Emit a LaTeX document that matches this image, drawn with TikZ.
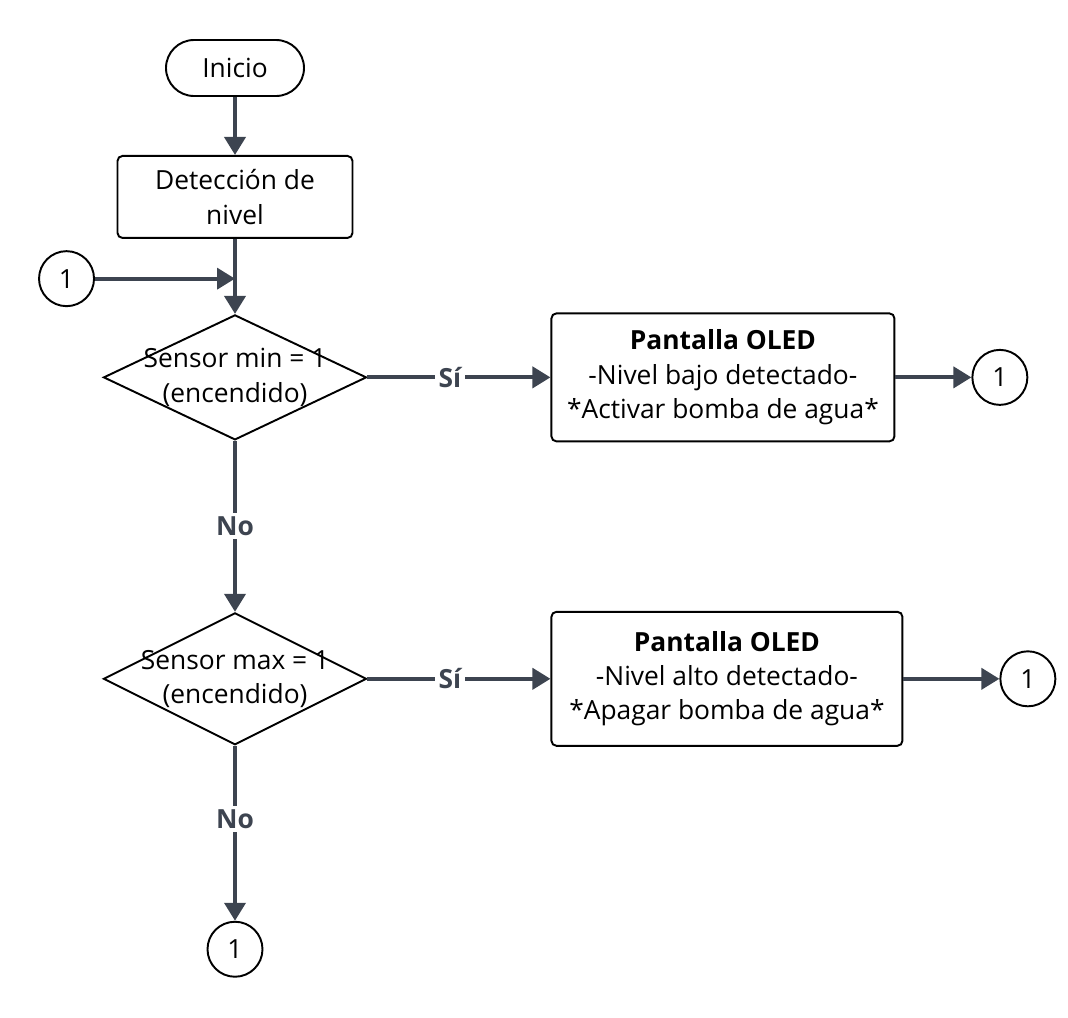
\documentclass[tikz,border=0pt]{standalone}
\usepackage{fontspec}
\setmainfont{Open Sans}
\usetikzlibrary{positioning,shapes.geometric,arrows.meta,calc}
\definecolor{linegray}{HTML}{3D4450}

\tikzset{
  base/.style={draw=black, line width=1.1pt, font=\fontsize{15}{19.5}\selectfont, align=center, inner sep=0pt},
  term/.style={base, rounded corners=0.56cm, minimum width=2.76cm, minimum height=1.12cm},
  proc/.style={base, rounded corners=0.1cm},
  dec/.style={base, diamond, minimum width=5.26cm},
  conn/.style={base, circle, minimum size=1.1cm},
  flow/.style={draw=linegray, line width=2.2pt, -{Triangle[length=0.36cm,width=0.42cm]}},
  lbl/.style={fill=white, font=\fontsize{15}{18}\selectfont\bfseries, text=linegray, inner sep=2pt}
}

\begin{document}
\begin{tikzpicture}
  \useasboundingbox (0,0) rectangle (21.36,-20.34);

  \node[term] (ini) at (4.7,-1.36) {Inicio};
  \node[proc, minimum width=4.7cm, minimum height=1.64cm] (det) [below=1.16cm of ini] {Detección de\\nivel};
  \node[dec, minimum height=2.5cm] (smin) [below=1.5cm of det] {};
  \node[base, draw=none] at (smin) {Sensor min = 1\\(encendido)};
  \node[dec, minimum height=2.64cm] (smax) [below=3.42cm of smin] {};
  \node[base, draw=none] at (smax) {Sensor max = 1\\(encendido)};

  \node[proc, minimum width=6.86cm, minimum height=2.56cm] (oled1) [right=3.66cm of smin] {\textbf{Pantalla OLED}\\-Nivel bajo detectado-\\*Activar bomba de agua*};
  \node[proc, minimum width=7.02cm, minimum height=2.68cm] (oled2) [right=3.66cm of smax] {\textbf{Pantalla OLED}\\-Nivel alto detectado-\\*Apagar bomba de agua*};

  \node[conn] (c1) [right=1.52cm of oled1] {1};
  \node[conn] (c2) [right=1.92cm of oled2] {1};
  \node[conn] (c3) [below=3.5cm of smax] {1};

  % entrada del conector
  \coordinate (j) at ($(det.south)!0.53!(smin.north)$);
  \node[conn] (c0) [left=2.8cm of j] {1};

  \draw[flow] (ini) -- (det);
  \draw[flow] (det) -- (smin);
  \draw[flow] (c0) -- (j);
  \draw[flow] (smin) -- node[lbl, pos=0.45] {Sí} (oled1);
  \draw[flow] (oled1) -- (c1);
  \draw[flow] (smin) -- node[lbl] {No} (smax);
  \draw[flow] (smax) -- node[lbl, pos=0.45] {Sí} (oled2);
  \draw[flow] (oled2) -- (c2);
  \draw[flow] (smax) -- node[lbl, pos=0.42] {No} (c3);
\end{tikzpicture}
\end{document}
